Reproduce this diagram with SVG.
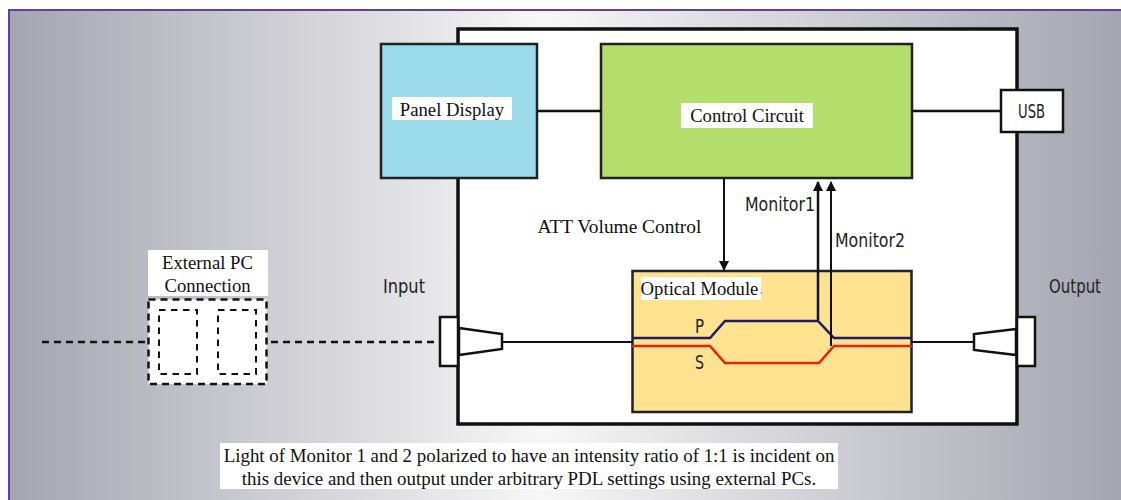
<svg xmlns="http://www.w3.org/2000/svg" width="1121" height="500" viewBox="0 0 1121 500">
<style>
.k{stroke:#111;stroke-width:2.5;fill:none}
.t{stroke:#111;stroke-width:2;fill:none}
.d{stroke:#111;stroke-width:2.500;fill:none;stroke-dasharray:7 5}
.e{stroke:#111;stroke-width:2;fill:none;stroke-dasharray:6.500 5.500}
.p{fill:#fff;stroke:#111;stroke-width:2.500}
.ser{font-family:"Liberation Serif",serif;font-size:18.7px;fill:#111;text-anchor:middle}
.big{font-size:18.9px}
.gth{font-family:"DejaVu Sans","Liberation Sans",sans-serif;font-size:20px;fill:#222}
</style>
<defs>
<linearGradient id="bg" x1="0" x2="1" y1="0" y2="0">
<stop offset="0" stop-color="#a5a5b1"/><stop offset="0.48" stop-color="#f7f7f7"/><stop offset="1" stop-color="#a5a5b1"/>
</linearGradient>
<marker id="ah" markerUnits="userSpaceOnUse" markerWidth="10" markerHeight="11" refX="9" refY="5" orient="auto">
<path d="M0 0L10 5L0 10Z" fill="#111"/>
</marker>
</defs>
<rect width="1121" height="500" fill="#fff"/>
<rect x="9" y="10" width="1112" height="490" fill="url(#bg)"/>
<path d="M9 500V10H1121" fill="none" stroke="#64409a" stroke-width="2"/>

<g id="device"><rect x="458" y="29" width="559" height="395" fill="#fff" stroke="#111" stroke-width="3.500"/></g>

<g id="panel-display">
<rect x="381" y="44" width="156" height="134" fill="#9bdae9" stroke="#222" stroke-width="2.500"/>
<rect x="392" y="97" width="120" height="23" fill="#fff"/>
<text class="ser" x="452" y="116">Panel Display</text>
</g>
<g id="control-circuit">
<rect x="601" y="44" width="311" height="134" fill="#b4de6c" stroke="#222" stroke-width="2.500"/>
<rect x="681" y="103" width="132" height="25" fill="#fff"/>
<text class="ser" x="747" y="122">Control Circuit</text>
</g>
<g id="usb">
<rect x="1001" y="90" width="62" height="42" class="p"/>
<text class="gth" x="1018" y="118" textLength="27" lengthAdjust="spacingAndGlyphs">USB</text>
</g>
<g id="optical-module">
<rect x="632.500" y="271" width="279" height="141" fill="#fde290" stroke="#222" stroke-width="2.500"/>
<rect x="641" y="277" width="120" height="23" fill="#fff"/>
<text class="ser" x="699.500" y="295">Optical Module</text>
<text class="ser" x="761" y="293" style="font-size:7px">,</text>
<path d="M632 338H710L725 321H818L834 338H912" fill="none" stroke="#1e1a6e" stroke-width="2.500"/>
<path d="M632 346H710L725 363H819L834 346H912" fill="none" stroke="#e8210f" stroke-width="2.500"/>
<text class="gth" x="695" y="333" textLength="9" lengthAdjust="spacingAndGlyphs">P</text>
<text class="gth" x="695" y="369" textLength="9" lengthAdjust="spacingAndGlyphs">S</text>
</g>
<g id="input-port">
<rect x="440" y="317" width="18" height="49" class="p"/>
<path d="M459 328L502 334V349L459 355Z" class="p"/>
<text class="gth" x="383" y="293" textLength="42" lengthAdjust="spacingAndGlyphs">Input</text>
</g>
<g id="output-port">
<rect x="1017" y="317" width="18" height="49" class="p"/>
<path d="M1016 329L974 334V350L1016 355Z" class="p"/>
<text class="gth" x="1049" y="293" textLength="52" lengthAdjust="spacingAndGlyphs">Output</text>
</g>
<g id="external-pc">
<rect x="148" y="250" width="120" height="46" fill="#fff"/>
<text class="ser" x="207.500" y="269">External PC</text>
<text class="ser" x="207.500" y="292">Connection</text>
<rect x="148.500" y="299.500" width="118" height="84.500" fill="#fff"/>
<rect x="148.500" y="299.500" width="118" height="84.500" class="d"/>
<rect x="159" y="310" width="38" height="64" class="e"/>
<rect x="218" y="310" width="38" height="64" class="e"/>
</g>
<g id="connectors">
<path class="k" d="M537 111H601M912 111H1001"/>
<path class="t" d="M724 178V270" marker-end="url(#ah)"/>
<path class="k" d="M818 320V182" marker-end="url(#ah)"/>
<path class="t" d="M831 346V182" marker-end="url(#ah)"/>
<path class="t" d="M502 342H632M912 342H974"/>
<path class="d" d="M42 342H148M271 342H440"/>
</g>
<g id="labels">
<text class="ser" x="619.500" y="233" style="font-size:19.4px">ATT Volume Control</text>
<text class="gth" x="745" y="211" textLength="70" lengthAdjust="spacingAndGlyphs">Monitor1</text>
<text class="gth" x="835" y="247" textLength="70" lengthAdjust="spacingAndGlyphs">Monitor2</text>
<rect x="220" y="443" width="618" height="46" fill="#fff"/>
<text class="ser big" x="529" y="461.500">Light of Monitor 1 and 2 polarized to have an intensity ratio of 1:1 is incident on</text>
<text class="ser big" x="529" y="485">this device and then output under arbitrary PDL settings using external PCs.</text>
</g>
</svg>
